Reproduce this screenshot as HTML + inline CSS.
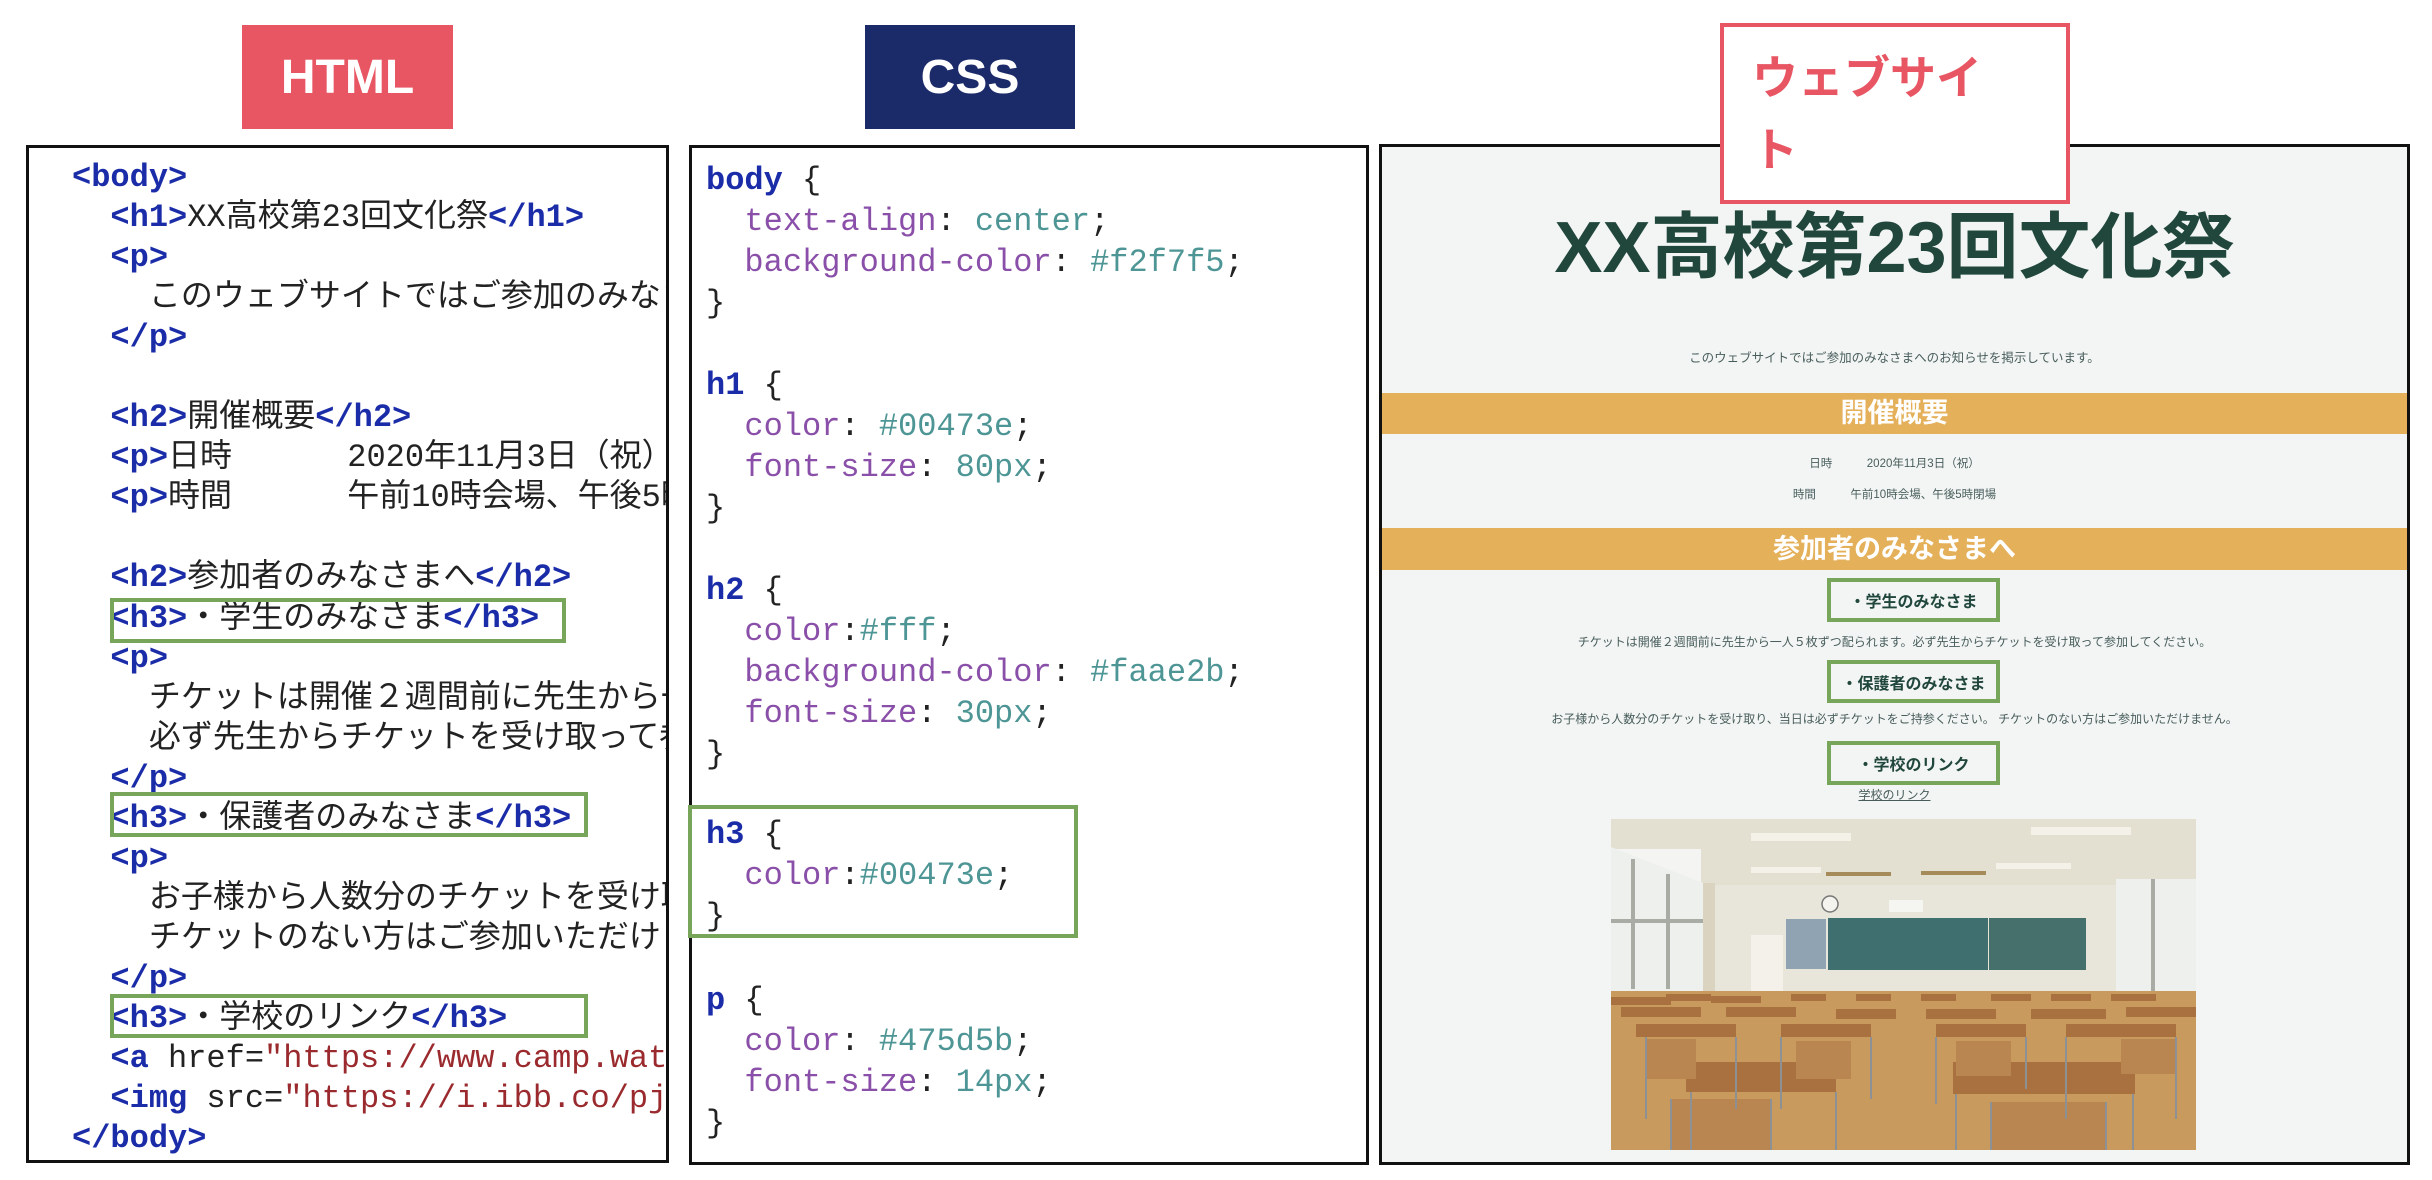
<!DOCTYPE html>
<html><head><meta charset="utf-8"><style>
*{margin:0;padding:0;box-sizing:border-box}
body{width:2432px;height:1180px;background:#fff;position:relative;overflow:hidden;font-family:"Liberation Sans","Noto Sans CJK JP",sans-serif}
.abs{position:absolute}
.lbl{position:absolute;color:#fff;font-weight:bold;font-size:48px;display:flex;align-items:center;justify-content:center}
.panel{position:absolute;border:3px solid #111;overflow:hidden;background:#fff}
.code{position:absolute;font-family:"Liberation Mono","Noto Sans CJK JP",monospace;font-size:32px;white-space:pre;color:#222}
.t{color:#1b2ca8;font-weight:bold}
.s{color:#9a2a2e}
.sel{color:#1b2ca8;font-weight:bold}
.pr{color:#8a4fa8}
.v{color:#4e9595}
.g{position:absolute;border:4px solid #77a55a}
.w{position:absolute;left:0;width:100%;text-align:center;color:#475d5b;font-family:"Liberation Sans","Noto Sans CJK JP",sans-serif}
.band{position:absolute;left:0;width:100%;background:#e4b05a;color:#fff;font-weight:bold;font-size:27px;text-align:center}
.h3{position:absolute;color:#21473c;font-weight:bold;font-size:16px;text-align:center;border:4px solid #77a55a;display:flex;align-items:center;justify-content:center}
</style></head><body>

<div class="lbl" style="left:242px;top:25px;width:211px;height:104px;background:#e85563">HTML</div>
<div class="lbl" style="left:865px;top:25px;width:210px;height:104px;background:#1b2a68">CSS</div>

<!-- HTML panel -->
<div class="panel" style="left:26px;top:145px;width:643px;height:1018px">
<div class="code" style="left:43px;top:10px;line-height:40.05px"><span class="t">&lt;body&gt;</span>
  <span class="t">&lt;h1&gt;</span>XX高校第23回文化祭<span class="t">&lt;/h1&gt;</span>
  <span class="t">&lt;p&gt;</span>
    このウェブサイトではご参加のみなさまへ
  <span class="t">&lt;/p&gt;</span>

  <span class="t">&lt;h2&gt;</span>開催概要<span class="t">&lt;/h2&gt;</span>
  <span class="t">&lt;p&gt;</span>日時      2020年11月3日（祝）
  <span class="t">&lt;p&gt;</span>時間      午前10時会場、午後5時閉場

  <span class="t">&lt;h2&gt;</span>参加者のみなさまへ<span class="t">&lt;/h2&gt;</span>
  <span class="t">&lt;h3&gt;</span>・学生のみなさま<span class="t">&lt;/h3&gt;</span>
  <span class="t">&lt;p&gt;</span>
    チケットは開催２週間前に先生から一人
    必ず先生からチケットを受け取って参加
  <span class="t">&lt;/p&gt;</span>
  <span class="t">&lt;h3&gt;</span>・保護者のみなさま<span class="t">&lt;/h3&gt;</span>
  <span class="t">&lt;p&gt;</span>
    お子様から人数分のチケットを受け取り
    チケットのない方はご参加いただけませ
  <span class="t">&lt;/p&gt;</span>
  <span class="t">&lt;h3&gt;</span>・学校のリンク<span class="t">&lt;/h3&gt;</span>
  <span class="t">&lt;a</span> href=<span class="s">"https://www.camp.water</span>
  <span class="t">&lt;img</span> src=<span class="s">"https://i.ibb.co/pjx</span>
<span class="t">&lt;/body&gt;</span></div>
</div>
<div class="g" style="left:110px;top:598px;width:456px;height:45px"></div>
<div class="g" style="left:110px;top:792px;width:478px;height:45px"></div>
<div class="g" style="left:110px;top:994px;width:478px;height:44px"></div>

<!-- CSS panel -->
<div class="panel" style="left:689px;top:145px;width:680px;height:1020px"></div>
<div class="code" style="left:706px;top:160px;line-height:41px"><span class="sel">body</span> {
  <span class="pr">text-align</span>: <span class="v">center</span>;
  <span class="pr">background-color</span>: <span class="v">#f2f7f5</span>;
}

<span class="sel">h1</span> {
  <span class="pr">color</span>: <span class="v">#00473e</span>;
  <span class="pr">font-size</span>: <span class="v">80px</span>;
}

<span class="sel">h2</span> {
  <span class="pr">color</span>:<span class="v">#fff</span>;
  <span class="pr">background-color</span>: <span class="v">#faae2b</span>;
  <span class="pr">font-size</span>: <span class="v">30px</span>;
}
</div>
<div class="code" style="left:706px;top:814px;line-height:41px"><span class="sel">h3</span> {
  <span class="pr">color</span>:<span class="v">#00473e</span>;
}</div>
<div class="code" style="left:706px;top:980px;line-height:41px"><span class="sel">p</span> {
  <span class="pr">color</span>: <span class="v">#475d5b</span>;
  <span class="pr">font-size</span>: <span class="v">14px</span>;
}</div>
<div class="g" style="left:688px;top:805px;width:390px;height:133px"></div>

<!-- Website panel -->
<div class="panel" style="left:1379px;top:144px;width:1031px;height:1021px;background:#f3f5f4">
  <div class="w" style="top:56px;font-size:72px;font-weight:bold;color:#21473c;line-height:90px">XX高校第23回文化祭</div>
  <div class="w" style="top:203px;font-size:12.5px;line-height:16px">このウェブサイトではご参加のみなさまへのお知らせを掲示しています。</div>
  <div class="band" style="top:246px;height:41px;line-height:41px">開催概要</div>
  <div class="w" style="top:310px;font-size:11.5px;line-height:14px">日時　　　2020年11月3日（祝）</div>
  <div class="w" style="top:341px;font-size:11.5px;line-height:14px">時間　　　午前10時会場、午後5時閉場</div>
  <div class="band" style="top:381px;height:42px;line-height:42px">参加者のみなさまへ</div>
  <div class="h3" style="left:445px;top:431px;width:173px;height:44px">・学生のみなさま</div>
  <div class="w" style="top:488px;font-size:12px;line-height:15px">チケットは開催２週間前に先生から一人５枚ずつ配られます。必ず先生からチケットを受け取って参加してください。</div>
  <div class="h3" style="left:445px;top:513px;width:173px;height:43px">・保護者のみなさま</div>
  <div class="w" style="top:565px;font-size:12px;line-height:15px">お子様から人数分のチケットを受け取り、当日は必ずチケットをご持参ください。 チケットのない方はご参加いただけません。</div>
  <div class="h3" style="left:445px;top:594px;width:173px;height:44px">・学校のリンク</div>
  <div class="w" style="top:641px;font-size:12px;line-height:14px;text-decoration:underline">学校のリンク</div>
  <svg class="abs" style="left:229px;top:672px" width="585" height="331" viewBox="0 0 585 331">
    <rect width="585" height="331" fill="#e3e0d2"/>
    <rect x="0" y="66" width="585" height="110" fill="#e8e6da"/>
    <rect x="0" y="30" width="90" height="140" fill="#f4f5f2"/>
    <path d="M0 28 L95 65 L95 175 L0 180Z" fill="#eef0ee"/>
    <rect x="20" y="40" width="4" height="130" fill="#a9aba5"/><rect x="55" y="55" width="4" height="115" fill="#a9aba5"/>
    <rect x="0" y="100" width="92" height="4" fill="#a9aba5"/>
    <rect x="92" y="64" width="12" height="120" fill="#d9d3c0"/>
    <rect x="505" y="60" width="80" height="120" fill="#eef0ee"/>
    <rect x="540" y="60" width="4" height="120" fill="#a9aba5"/>
    <rect x="140" y="14" width="100" height="8" fill="#f3f1e8"/><rect x="420" y="8" width="100" height="8" fill="#f3f1e8"/>
    <rect x="140" y="48" width="70" height="6" fill="#f3f1e8"/><rect x="215" y="53" width="65" height="4" fill="#a58a5a"/>
    <rect x="310" y="52" width="65" height="4" fill="#a58a5a"/><rect x="385" y="44" width="75" height="6" fill="#f3f1e8"/>
    <rect x="175" y="100" width="40" height="50" fill="#8fa3b3"/>
    <rect x="217" y="99" width="160" height="52" fill="#3f6f6e"/>
    <rect x="378" y="99" width="97" height="52" fill="#46706c"/>
    <rect x="140" y="116" width="32" height="60" fill="#f3f1ea"/>
    <circle cx="219" cy="85" r="8" fill="#f5f3ee" stroke="#777" stroke-width="1.5"/>
    <rect x="278" y="81" width="34" height="12" fill="#f5f5f2"/>
    <rect x="0" y="172" width="585" height="159" fill="#c99a5e"/>
    <g fill="#a9713f">
      <rect x="0" y="178" width="60" height="8"/><rect x="55" y="175" width="45" height="7"/><rect x="100" y="177" width="50" height="7"/>
      <rect x="180" y="175" width="35" height="7"/><rect x="245" y="175" width="35" height="7"/><rect x="310" y="175" width="35" height="7"/>
      <rect x="380" y="175" width="40" height="7"/><rect x="440" y="175" width="40" height="7"/><rect x="500" y="175" width="45" height="7"/>
      <rect x="10" y="188" width="80" height="10"/><rect x="115" y="188" width="70" height="10"/><rect x="225" y="190" width="60" height="10"/>
      <rect x="315" y="190" width="70" height="10"/><rect x="420" y="190" width="75" height="10"/><rect x="515" y="188" width="70" height="10"/>
      <rect x="25" y="205" width="100" height="13"/><rect x="170" y="205" width="90" height="13"/><rect x="325" y="205" width="90" height="13"/><rect x="455" y="205" width="110" height="13"/>
      <rect x="75" y="243" width="150" height="30"/><rect x="342" y="243" width="182" height="32"/>
    </g>
    <g fill="#b98550">
      <rect x="35" y="220" width="50" height="40"/><rect x="185" y="222" width="55" height="38"/><rect x="345" y="222" width="55" height="35"/><rect x="510" y="220" width="55" height="35"/>
      <rect x="60" y="280" width="100" height="51"/><rect x="380" y="283" width="115" height="48"/>
    </g>
    <g stroke="#8d9193" stroke-width="2" fill="none">
      <path d="M80 273 L80 331 M225 273 L225 331 M345 275 L345 331 M522 275 L522 331 M60 280 L60 331 M160 280 L160 331 M380 283 L380 331 M495 283 L495 331"/>
      <path d="M35 218 L35 300 M125 218 L125 290 M170 218 L170 290 M260 218 L260 280 M325 218 L325 285 M415 218 L415 270 M455 218 L455 300 M565 218 L565 300"/>
    </g>
  </svg>
</div>

<!-- ウェブサイト label -->
<div class="abs" style="left:1720px;top:23px;width:350px;height:181px;border:4px solid #e85563;background:#fff"></div>
<div class="abs" style="left:1752px;top:42px;font-size:46px;font-weight:bold;color:#e85563;line-height:72px">ウェブサイ<br>ト</div>

</body></html>
